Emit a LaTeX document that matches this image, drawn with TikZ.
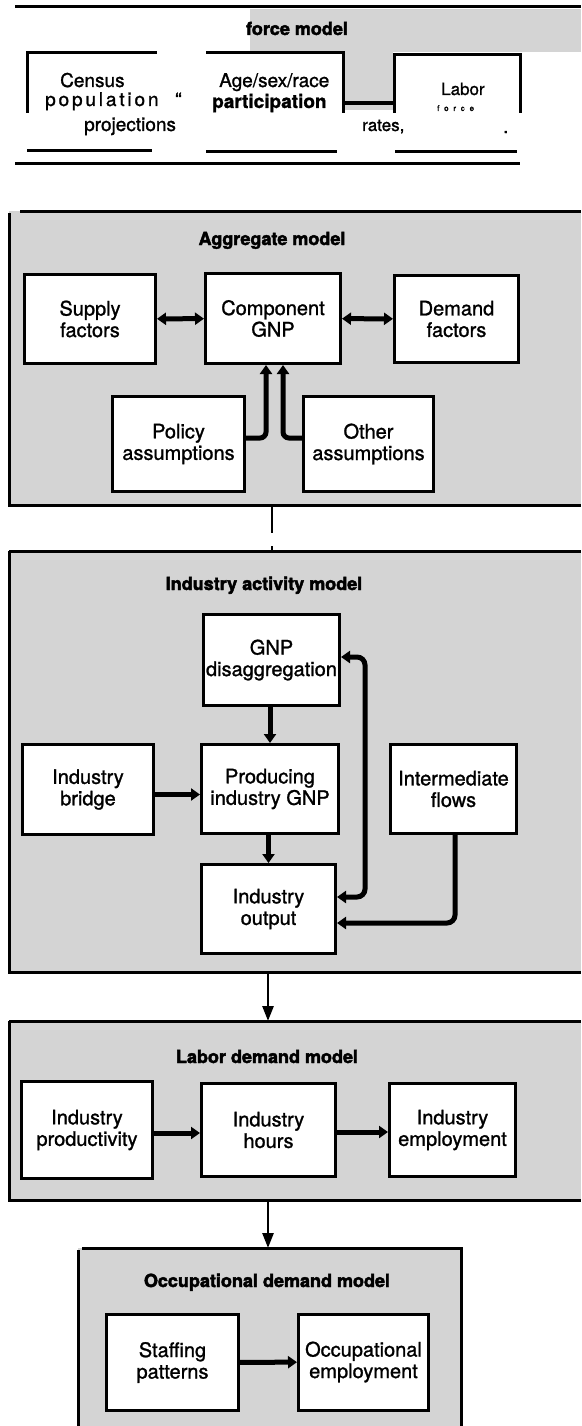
\documentclass[tikz,border=0pt]{standalone}
\usepackage{fontspec}
\setmainfont{TeX Gyre Heros}
\newfontfamily\boxfont{TeX Gyre Heros}[FakeBold=1.2]
\newfontfamily\headfont{TeX Gyre Heros}[FakeBold=2.5]
\usetikzlibrary{arrows.meta}

\begin{document}
\begin{tikzpicture}[x=1pt,y=-1pt,
    panel/.style={fill=black!17},
    frame/.style={line width=3pt},
    blok/.style={draw, line width=3pt, fill=white, align=center, inner sep=0pt,
      font=\boxfont\fontsize{20}{21.5}\selectfont},
    title/.style={font=\headfont\fontsize{18}{20}\bfseries, anchor=base, inner sep=0pt},
    txt/.style={font=\boxfont\fontsize{19}{21}\selectfont, anchor=base west, inner sep=0pt},
    link/.style={line width=5pt, -{Triangle[length=9pt,width=12pt]}},
    twoway/.style={line width=5pt, {Triangle[length=9pt,width=12pt]}-{Triangle[length=9pt,width=12pt]}},
    drop/.style={line width=2.6pt, -{Triangle[length=15pt,width=11pt]}}]
    \useasboundingbox (0,0) rectangle (581,1426);

    % labor force model
    \fill[panel] (250,9) rectangle (581,52);
    \fill[panel] (344,52) rectangle (393,110);
    \draw[frame] (15,7) -- (581,7);
    \draw[frame] (15,163) -- (520,163);
    \node[title] (t1) at (297,35) {force model};
    \draw[frame] (27,113) -- (27,53) -- (157,53);
    \draw[frame] (27,150) -- (152,150);
    \draw[frame] (206,53) -- (343,53) -- (343,113);
    \draw[frame] (206,151) -- (337,151);
    \draw[frame] (394,113) -- (394,55) -- (520,55) -- (520,113);
    \draw[frame] (395,151) -- (517,151);
    \node[txt] (census) at (60,87) {Census};
    \node[txt] (popul) at (45,106) {\addfontfeatures{LetterSpace=15}population};
    \node[txt] (quote) at (175,106) {“};
    \node[txt] (proj) at (84,131) {projections};
    \node[txt] (agesex) at (219,87) {Age/sex/race};
    \node[txt, font=\boxfont\fontsize{19}{21}\bfseries] (partic) at (212,108) {participation};
    \node[txt, font=\boxfont\fontsize{17}{19}\selectfont] (rates) at (362,131) {rates,};
    \node[txt, font=\boxfont\fontsize{17}{19}\selectfont] (labor) at (441,95) {Labor};
    \node[txt, font=\boxfont\fontsize{8}{9}\selectfont] (force) at (437,111) {\addfontfeatures{LetterSpace=60}force};
    \node[txt] (dot) at (503,133) {.};
    \coordinate (ageout) at (343,103);
    \coordinate (laborin) at (394,103);
    \draw[line width=4pt] (ageout) -- (laborin);

    % aggregate model
    \fill[panel] (9,211) rectangle (581,505);
    \draw[frame] (20,211) -- (581,211);
    \draw[frame] (9,213) -- (9,505) -- (581,505);
    \node[title] (t2) at (272,245) {Aggregate model};
    \node[blok, minimum width=131pt, minimum height=89pt] (supply) at (90,319) {Supply\\factors};
    \node[blok, minimum width=135pt, minimum height=90pt] (comp) at (273,318.5) {Component\\GNP};
    \node[blok, minimum width=124pt, minimum height=87pt] (demand) at (456.5,319) {Demand\\factors};
    \node[blok, minimum width=132pt, minimum height=95pt] (policy) at (178.5,444) {Policy\\assumptions};
    \node[blok, minimum width=130pt, minimum height=95pt] (other) at (368.5,444) {Other\\assumptions};
    \draw[twoway] (supply) -- (comp);
    \draw[twoway] (comp) -- (demand);
    \draw[link, rounded corners=6pt] ([yshift=6pt]policy.east) -| ([xshift=-7pt]comp.south);
    \draw[link, rounded corners=6pt] ([yshift=6pt]other.west) -| ([xshift=10pt]comp.south);

    % link to industry activity model
    \coordinate (aggout) at (272,505);
    \coordinate (indin) at (272,551);
    \draw[line width=2.6pt, dash pattern=on 28pt off 13pt on 20pt] (aggout) -- (indin);

    % industry activity model
    \fill[panel] (9,551) rectangle (581,972);
    \draw[frame] (9,551) -- (581,551);
    \draw[frame] (9,551) -- (9,972) -- (581,972);
    \node[title] (t3) at (264,590) {Industry activity model};
    \node[blok, minimum width=136pt, minimum height=91pt] (gnp) at (271.5,660) {GNP\\disaggregation};
    \node[blok, minimum width=131pt, minimum height=90pt] (bridge) at (88,789.5) {Industry\\bridge};
    \node[blok, minimum width=137pt, minimum height=89pt] (prod) at (270,789) {Producing\\industry GNP};
    \node[blok, minimum width=126pt, minimum height=89pt] (inter) at (453.5,789) {Intermediate\\flows};
    \node[blok, minimum width=134pt, minimum height=89pt] (output) at (268.5,909) {Industry\\output};
    \draw[link] (gnp.south -| prod.north) -- (prod.north);
    \draw[link] (prod.south -| output.north) -- (output.north);
    \draw[link] ([yshift=-5pt]bridge.east) -- ([yshift=-5pt]bridge.east -| prod.west);
    \draw[twoway, rounded corners=8pt] ([yshift=3pt]gnp.east) -- ++(24,0) |- ([yshift=12pt]output.east);
    \draw[link, rounded corners=8pt] ([xshift=1.5pt]inter.south) |- ([yshift=-14pt]output.east);

    % link to labor demand model
    \coordinate (indout) at (268,972);
    \coordinate (labin) at (268,1021);
    \draw[drop] (indout) -- (labin);

    % labor demand model
    \fill[panel] (9,1021) rectangle (581,1200);
    \draw[frame] (9,1021) -- (581,1021);
    \draw[frame] (9,1021) -- (9,1200) -- (581,1200);
    \node[title] (t4) at (267,1063) {Labor demand model};
    \node[blok, minimum width=131pt, minimum height=97pt] (prodv) at (87,1130) {Industry\\productivity};
    \node[blok, minimum width=134pt, minimum height=93pt] (hours) at (268.5,1130) {Industry\\hours};
    \node[blok, minimum width=126pt, minimum height=93pt] (employ) at (452.5,1130) {Industry\\employment};
    \draw[link] ([yshift=-3pt]prodv.east) -- ([yshift=-3pt]prodv.east -| hours.west);
    \draw[link] ([yshift=-2pt]hours.east) -- ([yshift=-2pt]hours.east -| employ.west);

    % link to occupational demand model
    \coordinate (labout) at (268,1200);
    \coordinate (occin) at (268,1248);
    \draw[drop] (labout) -- (occin);

    % occupational demand model
    \fill[panel] (78,1248) rectangle (461,1426);
    \draw[frame] (82,1248) -- (461,1248) -- (461,1426);
    \draw[frame] (78,1250) -- (78,1426);
    \node[title] (t5) at (267,1287) {Occupational demand model};
    \node[blok, minimum width=132pt, minimum height=96pt] (staff) at (172.5,1362.5) {Staffing\\patterns};
    \node[blok, minimum width=130pt, minimum height=96pt] (occup) at (363.5,1362) {Occupational\\employment};
    \draw[link] (staff) -- (occup);
\end{tikzpicture}
\end{document}
